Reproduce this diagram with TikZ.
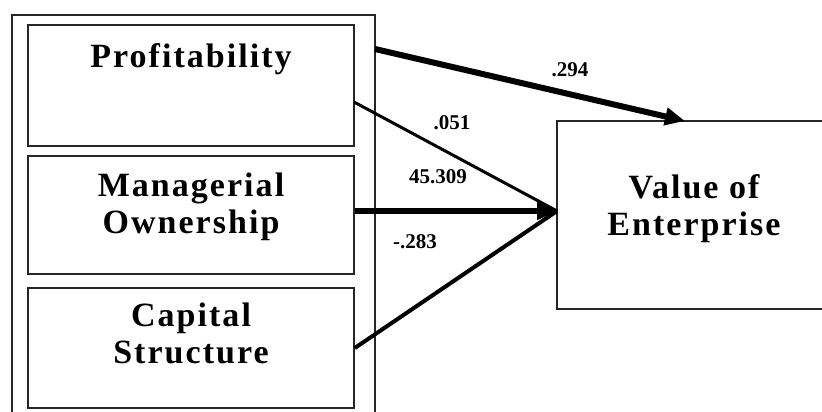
\documentclass[tikz,border=0pt]{standalone}
\usepackage{fontspec}
\setmainfont{Liberation Serif}
\usetikzlibrary{positioning,arrows.meta}

\tikzset{
  varbox/.style={draw=black!85, line width=1.6pt, minimum width=326pt, inner sep=0pt},
  vartext/.style={font=\fontsize{34}{37}\selectfont\bfseries\addfontfeatures{LetterSpace=6}, align=center, inner sep=0pt},
  coef/.style={font=\fontsize{21}{23}\selectfont\bfseries, inner sep=0pt},
  link/.style={draw=black, line cap=butt},
  tip/.style={-{Triangle[length=20pt,width=17pt]}},
}

\begin{document}
\begin{tikzpicture}[x=1pt,y=1pt,yscale=-1]
\useasboundingbox (0,0) rectangle (822,412);
\clip (0,0) rectangle (822,412);

% outer frame, open below
\draw[draw=black!85, line width=1.6pt] (12,430) -- (12,15) -- (375,15) -- (375,430);

% predictor boxes
\node[varbox, minimum height=121pt] (prof) at (191,85.5) {};
\node[varbox, minimum height=118pt] (mgr) at (191,215) {};
\node[varbox, minimum height=120pt] (cap) at (191,348) {};
\node[vartext, below=19pt of prof.north] (proftxt) {Profitability};
\node[vartext, below=18pt of mgr.north] (mgrtxt) {Managerial\\Ownership};
\node[vartext, below=16pt of cap.north] (captxt) {Capital\\Structure};

% outcome box, open to the right
\node[varbox, minimum width=274pt, minimum height=188pt] (value) at (694,215) {};
\node[vartext, anchor=center] (valtxt) at (694,209) {Value of\\Enterprise};

\coordinate (hub) at (557,211);
\coordinate (vtop) at (685,121);
\coordinate (ptop) at (375,49);
\coordinate (plow) at (354,102);

% paths
\draw[link, tip, line width=6pt] (ptop) -- (vtop);
\draw[link, line width=3pt] (plow) -- (hub);
\draw[link, line width=4pt] (cap.east) -- (hub);
\draw[link, tip, line width=6.5pt] (mgr.east |- hub) -- (hub);

% coefficients
\node[coef] (c1) at (570,70) {.294};
\node[coef] (c2) at (452,123) {.051};
\node[coef] (c3) at (438,177) {45.309};
\node[coef] (c4) at (415,242) {-.283};
\end{tikzpicture}
\end{document}
